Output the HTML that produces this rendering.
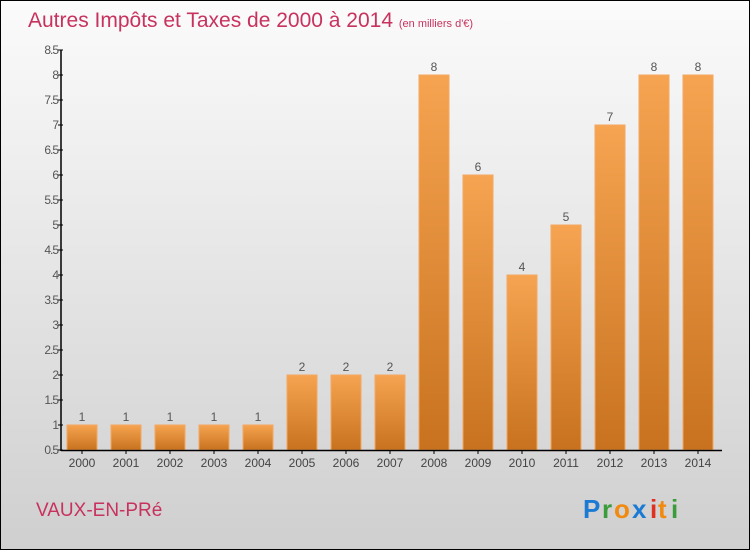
<!DOCTYPE html>
<html><head><meta charset="utf-8"><style>
body{margin:0}
#wrap{position:relative;width:748px;height:548px;border:1px solid #000;background:linear-gradient(#fbfbfb,#cfcfcf);font-family:"Liberation Sans",sans-serif;overflow:hidden}
</style></head><body>
<div id="wrap">
<svg id="svg" width="748" height="548" style="position:absolute;left:0;top:0">
<defs><linearGradient id="bg" x1="0" y1="0" x2="0" y2="1"><stop offset="0" stop-color="#f6a451"/><stop offset="1" stop-color="#c8721f"/></linearGradient></defs>
<text x="27" y="26" font-size="21" fill="#c8325e">Autres Impôts et Taxes de 2000 à 2014 <tspan font-size="11">(en milliers d'€)</tspan></text>
<text x="35" y="515" font-size="19" fill="#c8325e">VAUX-EN-PRé</text>
<g font-size="26" font-weight="bold">
<text x="582" y="517" fill="#1a7ad4">P</text><text x="601" y="517" fill="#3a9c3a">r</text><text x="613" y="517" fill="#f08a10">o</text><text x="631" y="517" fill="#1a7ad4">x</text><text x="649" y="517" fill="#e03020">i</text><text x="657" y="517" fill="#f08a10">t</text><text x="670" y="517" fill="#3a9c3a">i</text>
</g>
<g id="plot"></g>
</svg>
</div>
<script>
const years=["2000","2001","2002","2003","2004","2005","2006","2007","2008","2009","2010","2011","2012","2013","2014"];
const values=[1,1,1,1,1,2,2,2,8,6,4,5,7,8,8];
const yTicks=[0.5,1,1.5,2,2.5,3,3.5,4,4.5,5,5.5,6,6.5,7,7.5,8,8.5];
const NS="http://www.w3.org/2000/svg";
const g=document.getElementById('plot');
const y=v=>449-(v-0.5)*50;
const x=i=>81+i*44;
function el(t,a){const e=document.createElementNS(NS,t);for(const k in a)e.setAttribute(k,a[k]);g.appendChild(e);return e;}
values.forEach((v,i)=>{
 const r=el('rect',{x:x(i)-15,y:y(v),width:30,height:y(0.5)-y(v),fill:'url(#bg)',stroke:'#f4a860','stroke-width':1});
 
 
 const t=el('text',{x:x(i),y:y(v)-4,'font-size':12,'text-anchor':'middle',fill:'#555'});t.textContent=v;
 
 
 const l=el('text',{x:x(i),y:466,'font-size':12,'text-anchor':'middle',fill:'#444'});l.textContent=years[i];
 
 
 el('line',{x1:x(i),x2:x(i),y1:449,y2:453,stroke:'#000'});
});
yTicks.forEach(v=>{
 el('line',{x1:57,x2:62,y1:y(v),y2:y(v),stroke:'#000'});
 const t=el('text',{x:57,y:y(v)+4,'font-size':12,'text-anchor':'end',fill:'#555','letter-spacing':'-1'});t.textContent=v;
 
 
});
const ya=el('line',{x1:60,x2:60,y1:y(8.5),y2:450,stroke:'#000','stroke-width':1.5});


const xa=el('line',{x1:60,x2:721,y1:449.5,y2:449.5,stroke:'#000','stroke-width':1.5});


</script>
</body></html>
